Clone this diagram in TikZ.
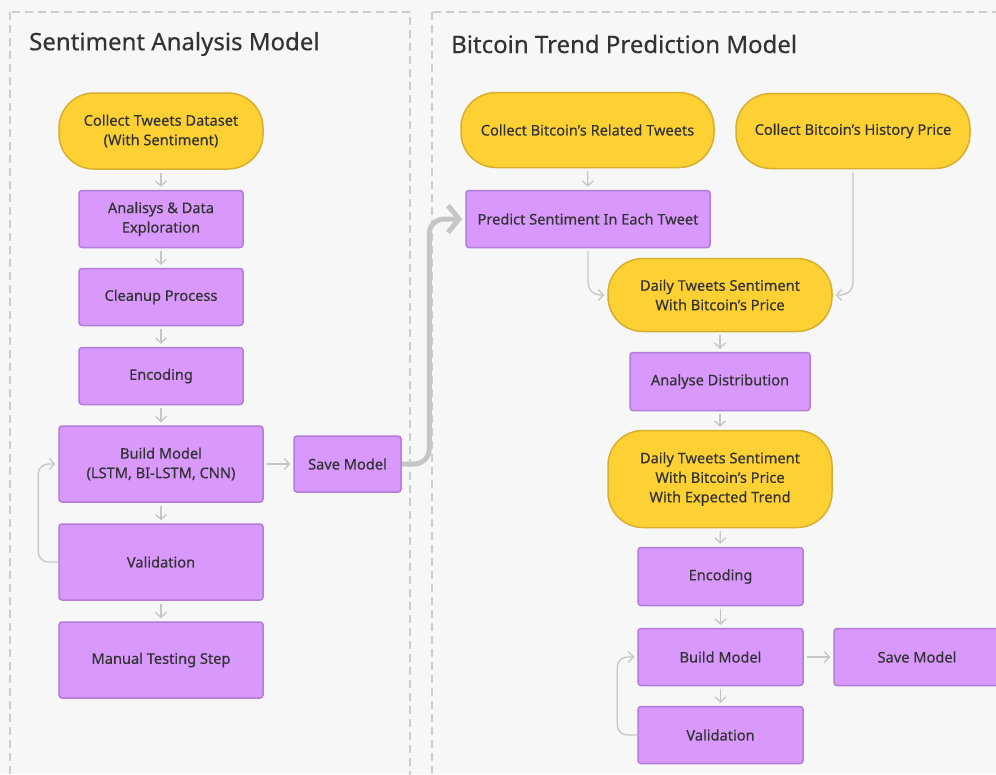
\documentclass[tikz,border=0pt]{standalone}
\usepackage{fontspec}
\setmainfont{Noto Sans}[FakeBold=0.35]
\usetikzlibrary{arrows.meta}

\definecolor{bg}{HTML}{F7F7F7}
\definecolor{panelline}{HTML}{CDCDCD}
\definecolor{yel}{HTML}{FDD133}
\definecolor{yelline}{HTML}{D8AE2E}
\definecolor{pur}{HTML}{D898FC}
\definecolor{purline}{HTML}{B37CD6}
\definecolor{txt}{HTML}{333333}
\definecolor{link}{HTML}{C6C6C6}

\tikzset{
  box/.style={rectangle, align=center, inner sep=0pt, text=txt,
    font=\fontsize{14.6}{19.5}\selectfont, line width=1.5pt},
  terminal/.style={box, draw=yelline, fill=yel, rounded corners=35pt},
  process/.style={box, draw=purline, fill=pur, rounded corners=3pt},
  flow/.style={draw=link, line width=1.3pt, shorten >=3pt, shorten <=3pt,
    -{Straight Barb[length=5pt,width=11pt]}},
  loopflow/.style={flow, shorten <=0pt, rounded corners=10pt},
  bigflow/.style={draw=link, line width=5pt, rounded corners=15pt,
    shorten >=3pt, -{Straight Barb[length=11pt,width=27pt]}},
  panel/.style={draw=panelline, line width=1.5pt, dash pattern=on 8pt off 5pt},
  paneltitle/.style={anchor=west, text=txt, inner sep=0pt,
    font=\fontsize{24}{29}\selectfont}
}

\begin{document}
\begin{tikzpicture}[x=1pt, y=-1pt]
  \useasboundingbox (0,0) rectangle (996,774);
  \clip (0,0) rectangle (996,774);
  \fill[bg] (0,0) rectangle (996,774);

  % two panels and the dotted divider between them
  \draw[panel] (10,12) rectangle (410,800);
  \draw[panel] (432,12) rectangle (1020,800);
  \draw[gray!30, line width=1pt, dash pattern=on 1pt off 9pt] (421,12) -- (421,790);

  \node[paneltitle] (titleL) at (29,44) {Sentiment Analysis Model};
  \node[paneltitle] (titleR) at (451,44) {Bitcoin Trend Prediction Model};

  % sentiment analysis pipeline
  \node[terminal, minimum width=204pt, minimum height=76pt] (tweets) at (161,131)
    {Collect Tweets Dataset\\(With Sentiment)};
  \node[process, minimum width=164pt, minimum height=57pt] (explore) at (161,219)
    {Analisys \& Data\\Exploration};
  \node[process, minimum width=164pt, minimum height=57pt] (cleanup) at (161,297)
    {Cleanup Process};
  \node[process, minimum width=164pt, minimum height=57pt] (encL) at (161,376)
    {Encoding};
  \node[process, minimum width=204pt, minimum height=76pt] (buildL) at (161,464)
    {Build Model\\(LSTM, BI-LSTM, CNN)};
  \node[process, minimum width=204pt, minimum height=76pt] (valL) at (161,562)
    {Validation};
  \node[process, minimum width=204pt, minimum height=76pt] (manual) at (161,660)
    {Manual Testing Step};
  \node[process, minimum width=107pt, minimum height=56pt] (saveL) at (347.5,464)
    {Save Model};

  \draw[flow] (tweets) -- (explore);
  \draw[flow] (explore) -- (cleanup);
  \draw[flow] (cleanup) -- (encL);
  \draw[flow] (encL) -- (buildL);
  \draw[flow] (buildL) -- (valL);
  \draw[flow] (valL) -- (manual);
  \draw[flow] (buildL) -- (saveL);
  \draw[loopflow] (valL.west) -- ++(-20,0) |- (buildL.west);

  % bitcoin trend prediction pipeline
  \node[terminal, minimum width=253pt, minimum height=75pt] (related) at (587.5,130)
    {Collect Bitcoin’s Related Tweets};
  \node[terminal, minimum width=234pt, minimum height=75pt] (history) at (853,131)
    {Collect Bitcoin’s History Price};
  \node[process, minimum width=244pt, minimum height=57pt] (predict) at (588,219)
    {Predict Sentiment In Each Tweet};
  \node[terminal, minimum width=224pt, minimum height=73pt] (daily) at (720,295)
    {Daily Tweets Sentiment\\With Bitcoin’s Price};
  \node[process, minimum width=180pt, minimum height=58pt] (distr) at (720,381.5)
    {Analyse Distribution};
  \node[terminal, minimum width=224pt, minimum height=97pt] (trend) at (720,479)
    {Daily Tweets Sentiment\\With Bitcoin’s Price\\With Expected Trend};
  \node[process, minimum width=165pt, minimum height=58pt] (encR) at (720.5,576.5)
    {Encoding};
  \node[process, minimum width=165pt, minimum height=57pt] (buildR) at (720.5,657)
    {Build Model};
  \node[process, minimum width=166pt, minimum height=57pt] (saveR) at (917,657)
    {Save Model};
  \node[process, minimum width=165pt, minimum height=57pt] (valR) at (720.5,735)
    {Validation};

  \draw[flow] (related) -- (predict);
  \draw[flow, rounded corners=12pt] (predict.south) |- (daily.west);
  \draw[flow, rounded corners=12pt] (history.south) |- (daily.east);
  \draw[flow] (daily) -- (distr);
  \draw[flow] (distr) -- (trend);
  \draw[flow] (trend) -- (encR);
  \draw[flow] (encR) -- (buildR);
  \draw[flow] (buildR) -- (valR);
  \draw[flow] (buildR) -- (saveR);
  \draw[loopflow] (valR.west) -- ++(-20,0) |- (buildR.west);

  % trained sentiment model handed over to the prediction pipeline
  \draw[bigflow] (saveL.east) -| ([xshift=-36pt]predict.west) -- (predict.west);
\end{tikzpicture}
\end{document}
